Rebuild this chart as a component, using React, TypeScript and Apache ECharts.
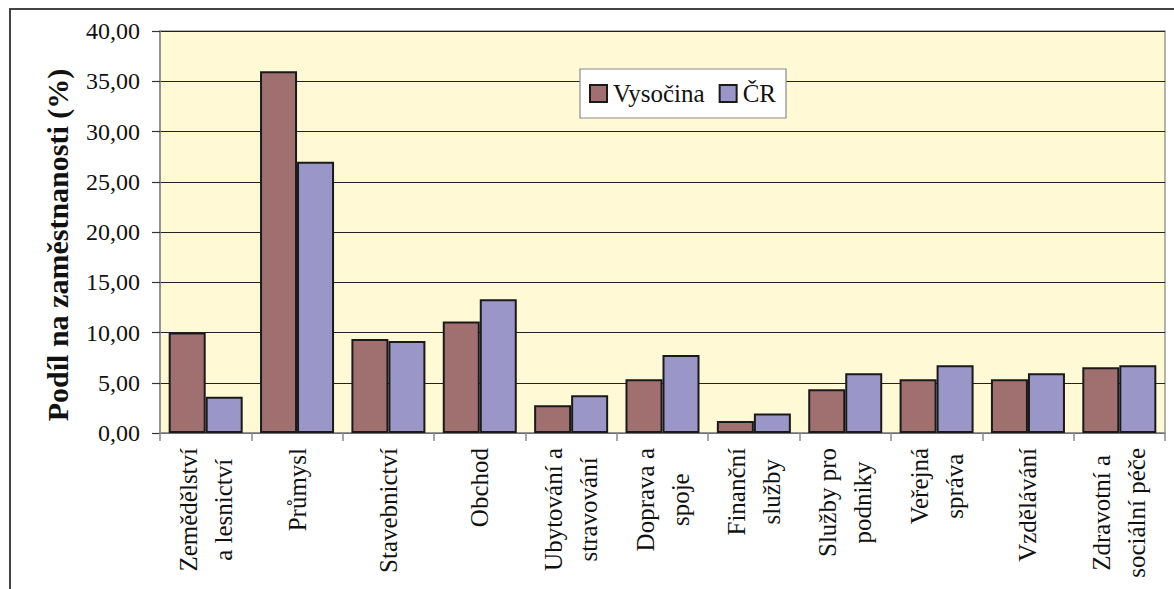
import React, { useEffect, useRef } from "react";
import * as echarts from "echarts";

const categories = [
  "Zemědělství\na lesnictví",
  "Průmysl",
  "Stavebnictví",
  "Obchod",
  "Ubytování a\nstravování",
  "Doprava a\nspoje",
  "Finanční\nslužby",
  "Služby pro\npodniky",
  "Veřejná\nspráva",
  "Vzdělávání",
  "Zdravotní a\nsociální péče",
];
const vysocina = [10.0, 36.0, 9.35, 11.1, 2.75, 5.35, 1.2, 4.35, 5.35, 5.35, 6.55];
const cr = [3.6, 27.0, 9.15, 13.3, 3.75, 7.75, 1.95, 5.95, 6.75, 5.95, 6.75];
const seriesNames = ["Vysočina", "ČR"];
const yTitle = "Podíl na zaměstnanosti (%)";

const FONT = "Liberation Serif";

export default function App() {
  const ref = useRef<HTMLDivElement>(null);
  useEffect(() => {
    if (!ref.current) return;
    const chart = echarts.init(ref.current, null, { renderer: "svg" });
    chart.setOption({
      animation: false,
      backgroundColor: "#ffffff",
      textStyle: { fontFamily: FONT },
      grid: {
        left: 160,
        top: 31,
        right: 9,
        bottom: 156,
        show: true,
        backgroundColor: "#FFF9D6",
        borderColor: "#9a9a9a",
        borderWidth: 1.5,
      },
      legend: {
        left: 580,
        top: 69,
        orient: "horizontal",
        backgroundColor: "#ffffff",
        borderColor: "#8a8a8a",
        borderWidth: 1.2,
        padding: [12, 10, 12, 9],
        itemGap: 14,
        itemWidth: 17,
        itemHeight: 17,
        icon: "rect",
        textStyle: { fontFamily: FONT, fontSize: 25, color: "#111", padding: [0, 0, 0, 1] },
        data: seriesNames,
      },
      xAxis: {
        type: "category",
        data: categories,
        axisLine: { lineStyle: { color: "#8a8a8a", width: 1.5 } },
        axisTick: { show: true, length: 8, alignWithLabel: false, lineStyle: { color: "#8a8a8a", width: 1.5 } },
        axisLabel: {
          interval: 0,
          rotate: 90,
          margin: 15,
          color: "#111",
          fontFamily: FONT,
          fontSize: 25,
          formatter: (v: string) =>
            v
              .split("\n")
              .map((l) => `{c|${l}}`)
              .join("\n"),
          rich: {
            c: { align: "center", fontFamily: FONT, fontSize: 25, color: "#111", lineHeight: 35 },
          },
        },
      },
      yAxis: {
        type: "value",
        min: 0,
        max: 40,
        interval: 5,
        axisLine: { show: true, lineStyle: { color: "#8a8a8a", width: 1.5 } },
        axisTick: { show: true, length: 8, lineStyle: { color: "#333", width: 1.2 } },
        splitLine: { show: true, lineStyle: { color: "#222", width: 1 } },
        axisLabel: {
          margin: 20,
          color: "#111",
          fontFamily: FONT,
          fontSize: 24,
          formatter: (v: number) => v.toFixed(2).replace(".", ","),
        },
      },
      graphic: [
        {
          type: "rect",
          shape: { x: 10, y: 9, width: 1300, height: 800 },
          style: { fill: "none", stroke: "#444", lineWidth: 2 },
          silent: true,
          z: 100,
        },
        {
          type: "text",
          x: 57,
          y: 245,
          rotation: Math.PI / 2,
          style: {
            text: yTitle,
            fontFamily: FONT,
            fontWeight: "bold",
            fontSize: 30,
            fill: "#111",
            align: "center",
            verticalAlign: "middle",
          },
        },
      ],
      series: [
        {
          name: seriesNames[0],
          type: "bar",
          data: vysocina,
          barGap: "0%",
          barCategoryGap: "19%",
          itemStyle: { color: "#A07070", borderColor: "#1a1a1a", borderWidth: 2 },
        },
        {
          name: seriesNames[1],
          type: "bar",
          data: cr,
          barGap: "0%",
          barCategoryGap: "19%",
          itemStyle: { color: "#9B96C8", borderColor: "#1a1a1a", borderWidth: 2 },
        },
      ],
    });
    return () => chart.dispose();
  }, []);
  return (
    <div
      ref={ref}
      style={{ position: "fixed", left: 0, top: 0, width: 1174, height: 589 }}
    />
  );
}
